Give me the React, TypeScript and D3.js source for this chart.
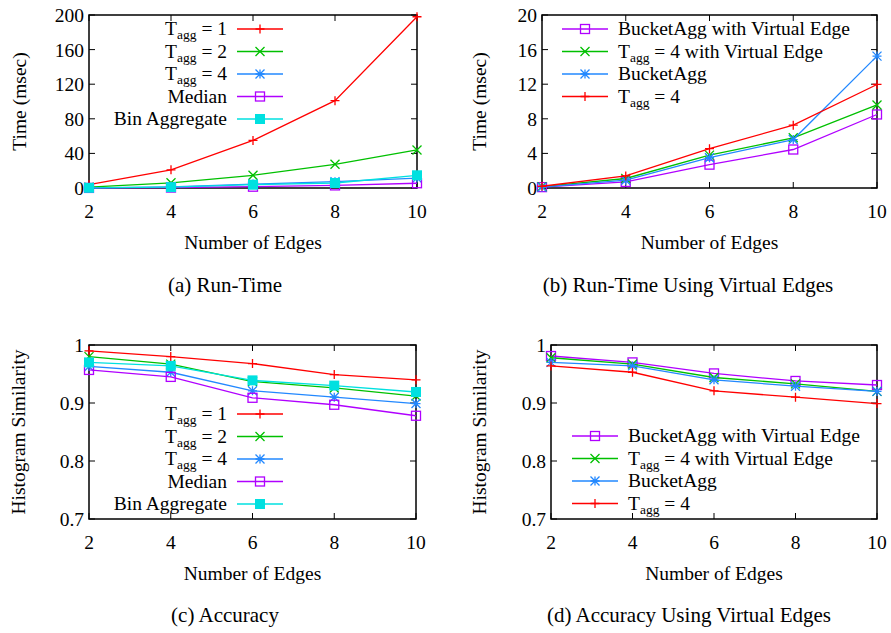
import React from 'react';
import * as d3 from 'd3';

// x values shared by every panel
const edges = [2, 4, 6, 8, 10];

// (a) run-time, msec
const runTagg1 = [4, 21, 55, 101, 198];
const runTagg2 = [1, 6, 14.7, 27.4, 44];
const runTagg4 = [0.2, 1.4, 4.5, 7.3, 11.5];
const runMedian = [0.1, 0.5, 1.5, 3, 5.5];
const runBin = [0.2, 1.0, 3.8, 5.8, 14.7];

// (b) run-time using virtual edges, msec
const vrBucketVE = [0.1, 0.7, 2.7, 4.45, 8.5];
const vrTagg4VE = [0.15, 1.1, 3.8, 5.8, 9.6];
const vrBucket = [0.1, 0.9, 3.5, 5.6, 15.25];
const vrTagg4 = [0.2, 1.4, 4.55, 7.26, 11.97];

// (c) accuracy
const accTagg1 = [0.99, 0.98, 0.968, 0.949, 0.94];
const accTagg2 = [0.98, 0.967, 0.937, 0.926, 0.912];
const accTagg4 = [0.963, 0.953, 0.921, 0.91, 0.899];
const accMedian = [0.957, 0.945, 0.909, 0.897, 0.878];
const accBin = [0.97, 0.964, 0.939, 0.93, 0.919];

// (d) accuracy using virtual edges
const vaBucketVE = [0.981, 0.97, 0.951, 0.938, 0.931];
const vaTagg4VE = [0.978, 0.967, 0.944, 0.933, 0.92];
const vaBucket = [0.97, 0.964, 0.94, 0.929, 0.92];
const vaTagg4 = [0.964, 0.953, 0.921, 0.91, 0.899];

const timeTicks = [0, 40, 80, 120, 160, 200];
const vtimeTicks = [0, 4, 8, 12, 16, 20];
const accTicks = [0.7, 0.8, 0.9, 1];

const RED = '#ff0000';
const GREEN = '#00c000';
const BLUE = '#2288ff';
const PURPLE = '#b000ff';
const CYAN = '#00e0e0';

const FONT = '"Liberation Serif", "Times New Roman", serif';
const FS = 19.5;

type Series = { label: string; sub?: string; rest?: string; values: number[]; color: string; mark: string };

function Marker({ type, x, y, color }: { type: string; x: number; y: number; color: string }) {
  const s = 4.5;
  if (type === 'plus')
    return <path d={`M${x - s},${y}H${x + s}M${x},${y - s}V${y + s}`} stroke={color} strokeWidth={1.3} fill="none" />;
  if (type === 'cross')
    return <path d={`M${x - s},${y - s}L${x + s},${y + s}M${x - s},${y + s}L${x + s},${y - s}`} stroke={color} strokeWidth={1.3} fill="none" />;
  if (type === 'star')
    return (
      <path
        d={`M${x - s},${y}H${x + s}M${x},${y - s}V${y + s}M${x - s},${y - s}L${x + s},${y + s}M${x - s},${y + s}L${x + s},${y - s}`}
        stroke={color} strokeWidth={1.3} fill="none" />
    );
  if (type === 'box')
    return <rect x={x - s} y={y - s} width={2 * s} height={2 * s} stroke={color} strokeWidth={1.3} fill="none" />;
  return <rect x={x - 5} y={y - 5} width={10} height={10} fill={color} />;
}

function Label({ s, x, y, anchor }: { s: Series; x: number; y: number; anchor: string }) {
  return (
    <text x={x} y={y} textAnchor={anchor} fontSize={FS} fontFamily={FONT} fill="#000">
      {s.label}
      {s.sub && <tspan dy={4} fontSize={13.5}>{s.sub}</tspan>}
      {s.sub && <tspan dy={-4}>{s.rest}</tspan>}
    </text>
  );
}

function Panel({ L, R, T, B, yDomain, yTicks, yFmt, yTitle, yTitleX, series, legend, caption, capX, capY }: any) {
  const x = d3.scaleLinear().domain([2, 10]).range([L, R]);
  const y = d3.scaleLinear().domain(yDomain).range([B, T]);
  const line = d3.line<number>().x((_, i) => x(edges[i])).y(d => y(d));
  const tk = 6;
  return (
    <g>
      <rect x={L} y={T} width={R - L} height={B - T} fill="none" stroke="#000" strokeWidth={1.5} />
      {yTicks.map((t: number) => (
        <g key={'y' + t}>
          <path d={`M${L},${y(t)}h${tk}M${R},${y(t)}h${-tk}`} stroke="#000" strokeWidth={1} />
          <text x={L - 5} y={y(t) + 7} textAnchor="end" fontSize={FS} fontFamily={FONT}>{yFmt(t)}</text>
        </g>
      ))}
      {edges.map(e => (
        <g key={'x' + e}>
          <path d={`M${x(e)},${B}v${-tk}M${x(e)},${T}v${tk}`} stroke="#000" strokeWidth={1} />
          <text x={x(e)} y={B + 30} textAnchor="middle" fontSize={FS} fontFamily={FONT}>{e}</text>
        </g>
      ))}
      <text x={(L + R) / 2} y={B + 61} textAnchor="middle" fontSize={FS} fontFamily={FONT}>Number of Edges</text>
      <text transform={`translate(${yTitleX},${(T + B) / 2}) rotate(-90)`} dy={6} textAnchor="middle" fontSize={FS} fontFamily={FONT}>{yTitle}</text>
      {series.map((s: Series, k: number) => (
        <g key={'s' + k}>
          <path d={line(s.values) || ''} fill="none" stroke={s.color} strokeWidth={1.3} />
          {s.values.map((v, i) => <Marker key={i} type={s.mark} x={x(edges[i])} y={y(v)} color={s.color} />)}
        </g>
      ))}
      {series.map((s: Series, k: number) => {
        const ly = legend.y0 + k * legend.dy;
        const lx0 = legend.lineX;
        return (
          <g key={'l' + k}>
            <path d={`M${lx0},${ly}h46`} stroke={s.color} strokeWidth={1.5} />
            <Marker type={s.mark} x={lx0 + 23} y={ly} color={s.color} />
            <Label s={s} x={legend.textX} y={ly + 6} anchor={legend.anchor} />
          </g>
        );
      })}
      <text x={capX} y={capY} textAnchor="middle" fontSize={21} fontFamily={FONT}>{caption}</text>
    </g>
  );
}

export default function App() {
  const seriesA: Series[] = [
    { label: 'T', sub: 'agg', rest: ' = 1', values: runTagg1, color: RED, mark: 'plus' },
    { label: 'T', sub: 'agg', rest: ' = 2', values: runTagg2, color: GREEN, mark: 'cross' },
    { label: 'T', sub: 'agg', rest: ' = 4', values: runTagg4, color: BLUE, mark: 'star' },
    { label: 'Median', values: runMedian, color: PURPLE, mark: 'box' },
    { label: 'Bin Aggregate', values: runBin, color: CYAN, mark: 'fill' },
  ];
  const seriesB: Series[] = [
    { label: 'BucketAgg with Virtual Edge', values: vrBucketVE, color: PURPLE, mark: 'box' },
    { label: 'T', sub: 'agg', rest: ' = 4 with Virtual Edge', values: vrTagg4VE, color: GREEN, mark: 'cross' },
    { label: 'BucketAgg', values: vrBucket, color: BLUE, mark: 'star' },
    { label: 'T', sub: 'agg', rest: ' = 4', values: vrTagg4, color: RED, mark: 'plus' },
  ];
  const seriesC: Series[] = [
    { label: 'T', sub: 'agg', rest: ' = 1', values: accTagg1, color: RED, mark: 'plus' },
    { label: 'T', sub: 'agg', rest: ' = 2', values: accTagg2, color: GREEN, mark: 'cross' },
    { label: 'T', sub: 'agg', rest: ' = 4', values: accTagg4, color: BLUE, mark: 'star' },
    { label: 'Median', values: accMedian, color: PURPLE, mark: 'box' },
    { label: 'Bin Aggregate', values: accBin, color: CYAN, mark: 'fill' },
  ];
  const seriesD: Series[] = [
    { label: 'BucketAgg with Virtual Edge', values: vaBucketVE, color: PURPLE, mark: 'box' },
    { label: 'T', sub: 'agg', rest: ' = 4 with Virtual Edge', values: vaTagg4VE, color: GREEN, mark: 'cross' },
    { label: 'BucketAgg', values: vaBucket, color: BLUE, mark: 'star' },
    { label: 'T', sub: 'agg', rest: ' = 4', values: vaTagg4, color: RED, mark: 'plus' },
  ];
  const accFmt = (t: number) => (t === 1 ? '1' : d3.format('.1f')(t));
  return (
    <svg width={891} height={633} style={{ position: 'absolute', left: 0, top: 0, background: '#fff' }}>
      <Panel L={89} R={417} T={15} B={188} yDomain={[0, 200]} yTicks={timeTicks} yFmt={String}
        yTitle="Time (msec)" yTitleX={20} series={seriesA}
        legend={{ y0: 29, dy: 22.5, lineX: 237, textX: 227, anchor: 'end' }}
        caption="(a)  Run-Time" capX={225} capY={292} />
      <Panel L={542} R={877} T={15} B={188} yDomain={[0, 20]} yTicks={vtimeTicks} yFmt={String}
        yTitle="Time (msec)" yTitleX={480} series={seriesB}
        legend={{ y0: 29, dy: 22.5, lineX: 562, textX: 618, anchor: 'start' }}
        caption="(b)  Run-Time Using Virtual Edges" capX={688} capY={292} />
      <Panel L={89} R={416} T={345} B={519} yDomain={[0.7, 1]} yTicks={accTicks} yFmt={accFmt}
        yTitle="Histogram Similarity" yTitleX={19} series={seriesC}
        legend={{ y0: 414, dy: 22.5, lineX: 237, textX: 227, anchor: 'end' }}
        caption="(c)  Accuracy" capX={225} capY={622} />
      <Panel L={551} R={877} T={345} B={519} yDomain={[0.7, 1]} yTicks={accTicks} yFmt={accFmt}
        yTitle="Histogram Similarity" yTitleX={480} series={seriesD}
        legend={{ y0: 436, dy: 22.5, lineX: 572, textX: 628, anchor: 'start' }}
        caption="(d)  Accuracy Using Virtual Edges" capX={689} capY={622} />
    </svg>
  );
}
